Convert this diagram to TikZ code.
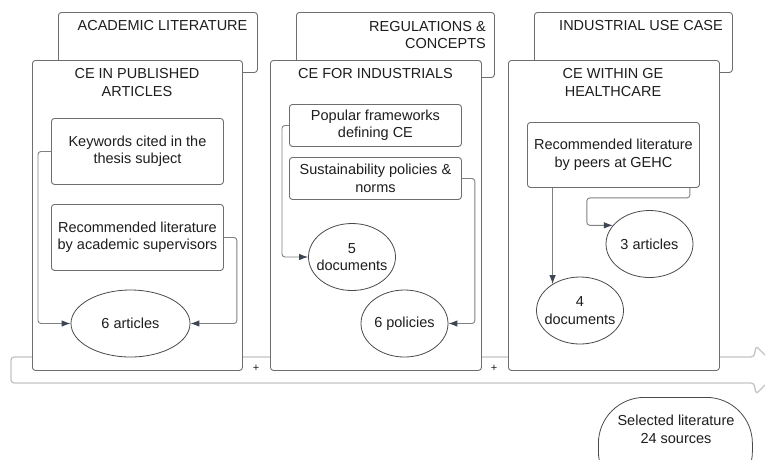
\documentclass[tikz,border=0pt]{standalone}
\usepackage{fontspec}
\setmainfont{Liberation Sans}
\usetikzlibrary{arrows.meta,shapes.geometric}
\definecolor{boxgray}{HTML}{6E6E6E}
\definecolor{ellgray}{HTML}{4A4A4A}
\definecolor{linegray}{HTML}{808080}
\definecolor{arrowdark}{HTML}{3E4653}
\definecolor{bandgray}{HTML}{C4C4C4}
\definecolor{txtcol}{HTML}{1E1E1E}
\begin{document}
\begin{tikzpicture}[x=1pt,y=-1pt,
  box/.style={draw=boxgray, fill=white, rounded corners=3pt, line width=0.9pt, inner sep=0pt, anchor=north west},
  ell/.style={draw=ellgray, fill=white, ellipse, line width=0.8pt, inner sep=0pt},
  txt/.style={text=txtcol, font=\fontsize{14.5}{17.5}\selectfont, align=center, inner sep=0pt},
  plus/.style={text=txtcol, font=\fontsize{11}{13}\selectfont, inner sep=0pt},
  conn/.style={draw=linegray, line width=0.9pt, rounded corners=3pt, -{Latex[length=9pt,width=6.5pt,color=arrowdark]}},
  band/.style={draw=bandgray, line width=1.3pt, fill=white, rounded corners=3pt}
]
\useasboundingbox (0,0) rectangle (765,459);
\clip (0,0) rectangle (765,459);
\fill[white] (0,0) rectangle (765,459);

% band arrow
\draw[band] (11,357) -- (754,357) -- (756,346) -- (780,370) -- (756,394) -- (754,383) -- (11,383) -- cycle;

% header boxes
\node[box, minimum width=199pt, minimum height=60pt] (ha) at (58,12) {};
\node[box, minimum width=198pt, minimum height=65pt] (hb) at (296,12) {};
\node[box, minimum width=198pt, minimum height=60pt] (hc) at (534,12) {};
\node[txt] (hat) at (162.5,26) {ACADEMIC LITERATURE};
\node[txt, align=right, anchor=east] (hbt) at (486,35) {REGULATIONS \&\\CONCEPTS};
\node[txt] (hct) at (641,26) {INDUSTRIAL USE CASE};

% panels
\node[box, minimum width=210pt, minimum height=310pt] (pa) at (32,60) {};
\node[box, minimum width=211pt, minimum height=310pt] (pb) at (270,60) {};
\node[box, minimum width=211pt, minimum height=310pt] (pc) at (508,60) {};
\node[txt] (pat) at (137,82.5) {CE IN PUBLISHED\\ARTICLES};
\node[txt] (pbt) at (375.5,74) {CE FOR INDUSTRIALS};
\node[txt] (pct) at (613,82.5) {CE WITHIN GE\\HEALTHCARE};

% inner boxes
\node[box, txt, minimum width=172pt, minimum height=66pt] (k1) at (51,118) {Keywords cited in the\\thesis subject};
\node[box, txt, minimum width=172pt, minimum height=66pt] (r1) at (51,204) {Recommended literature\\by academic supervisors};
\node[box, txt, minimum width=172pt, minimum height=42pt] (f2) at (289,104) {Popular frameworks\\defining CE};
\node[box, txt, minimum width=172pt, minimum height=42pt] (s2) at (289,157) {Sustainability policies \&\\norms};
\node[box, txt, minimum width=172pt, minimum height=65pt] (g3) at (527,122) {Recommended literature\\by peers at GEHC};

% ellipses
\node[ell, minimum width=119pt, minimum height=67pt] (e1) at (130.5,323.5) {};
\node[txt] (e1t) at (e1.center) {6 articles};
\node[ell, minimum width=87pt, minimum height=67pt] (e2a) at (352,257) {};
\node[txt] (e2at) at (e2a.center) {5\\documents};
\node[ell, minimum width=87pt, minimum height=67pt] (e2b) at (404.5,323.5) {};
\node[txt] (e2bt) at (e2b.center) {6 policies};
\node[ell, minimum width=87pt, minimum height=67pt] (e3a) at (649.5,244) {};
\node[txt] (e3at) at (e3a.center) {3 articles};
\node[ell, minimum width=87pt, minimum height=67pt] (e3b) at (580,310.5) {};
\node[txt] (e3bt) at (e3b.center) {4\\documents};

% connectors
\draw[conn] (k1.west) -- ++(-13,0) |- (e1.west);
\draw[conn] (r1.east) -- ++(13,0) |- (e1.east);
\draw[conn] (f2.west) -- ++(-7,0) |- (e2a.west);
\draw[conn] (s2.east) -- ++(13,0) |- (e2b.east);
\draw[conn] (g3.south -| e3b.136) -- (e3b.136);
\draw[conn] ([xshift=-10pt]g3.south east) -- ++(0,10) -| ([xshift=-26pt]e3a.153) -- (e3a.153);

% plus signs
\node[plus] (plus1) at (256,368) {+};
\node[plus] (plus2) at (494,368) {+};

% selected literature
\node[draw=ellgray, fill=white, line width=0.8pt, rounded corners=46pt, minimum width=154pt, minimum height=100pt, anchor=north west, inner sep=0pt] (sel) at (598,397) {};
\node[txt] (selt) at (676,429.5) {Selected literature\\24 sources};
\end{tikzpicture}
\end{document}
